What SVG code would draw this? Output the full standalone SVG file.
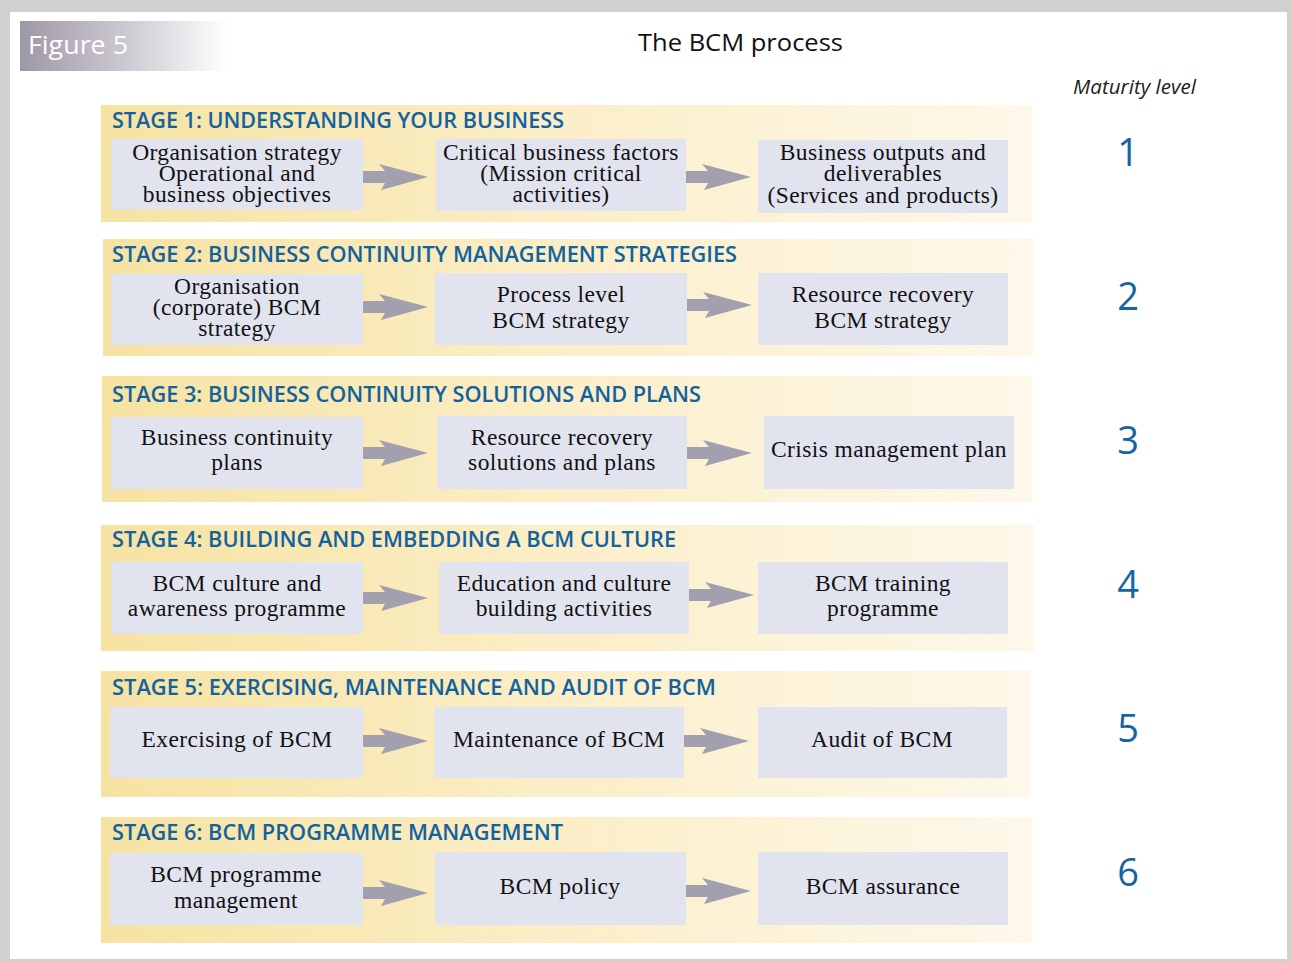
<svg xmlns="http://www.w3.org/2000/svg" xmlns:xlink="http://www.w3.org/1999/xlink" width="1292" height="962" viewBox="0 0 1292 962">
<style>
.stage{fill:url(#stageGrad)}
.title{font-family:"Open Sans","Liberation Sans",sans-serif;font-size:21px;font-weight:600;fill:#11629f}
.node rect{fill:#e1e3ef}
.node text{font-family:"Liberation Serif","DejaVu Serif",serif;font-size:23.5px;letter-spacing:0.4px;fill:#111;text-anchor:middle}
.lvl{font-family:"Open Sans","Liberation Sans",sans-serif;font-size:38px;fill:#1565a6;text-anchor:middle}
.arrow{fill:#a29fae}
</style>
<defs>
<linearGradient id="stageGrad" x1="0" y1="0" x2="1" y2="0">
<stop offset="0" stop-color="#f6e3a2"/>
<stop offset="0.45" stop-color="#fbedc4"/>
<stop offset="1" stop-color="#fdf8ea"/>
</linearGradient>
<linearGradient id="figGrad" x1="0" y1="0" x2="1" y2="0">
<stop offset="0" stop-color="#9e98a6"/>
<stop offset="0.5" stop-color="#ccc8d0"/>
<stop offset="1" stop-color="#ffffff"/>
</linearGradient>
<path id="arr" d="M0,-6 H22 L16,-13 L65,0 L18,13 L22,6 H0 Z"/>
</defs>

<rect x="0" y="0" width="1292" height="962" fill="#d0d0d0"/>
<rect x="10" y="12" width="1277" height="947" fill="#ffffff"/>

<g id="header">
<rect x="20" y="21" width="208" height="50" fill="url(#figGrad)"/>
<text x="28" y="54" font-family="Open Sans, Liberation Sans, sans-serif" font-size="26" fill="#ffffff" textLength="100" lengthAdjust="spacingAndGlyphs">Figure 5</text>
<text x="638" y="51" font-family="Open Sans, Liberation Sans, sans-serif" font-size="23" fill="#111" textLength="205" lengthAdjust="spacingAndGlyphs">The BCM process</text>
<text x="1073" y="94" font-family="Open Sans, Liberation Sans, sans-serif" font-size="20" font-style="italic" fill="#222" textLength="123" lengthAdjust="spacingAndGlyphs">Maturity level</text>
</g>

<g id="stage1">
<rect class="stage" x="101" y="105" width="931" height="117"/>
<text class="title" x="112" y="128" textLength="452" lengthAdjust="spacingAndGlyphs">STAGE 1: UNDERSTANDING YOUR BUSINESS</text>
<text class="lvl" x="1128" y="166">1</text>
</g>
<g id="s1n1" class="node"><rect x="111" y="139" width="252" height="71"/><text x="237" y="160">Organisation strategy</text><text x="237" y="181">Operational and</text><text x="237" y="202">business objectives</text></g>
<g id="s1n2" class="node"><rect x="436" y="139" width="250" height="72"/><text x="561" y="160">Critical business factors</text><text x="561" y="181">(Mission critical</text><text x="561" y="202">activities)</text></g>
<g id="s1n3" class="node"><rect x="758" y="140" width="250" height="73"/><text x="883" y="160">Business outputs and</text><text x="883" y="181">deliverables</text><text x="883" y="203">(Services and products)</text></g>

<g id="stage2">
<rect class="stage" x="103" y="239" width="930" height="117"/>
<text class="title" x="112" y="262" textLength="625" lengthAdjust="spacingAndGlyphs">STAGE 2: BUSINESS CONTINUITY MANAGEMENT STRATEGIES</text>
<text class="lvl" x="1128" y="310">2</text>
</g>
<g id="s2n1" class="node"><rect x="111" y="274" width="252" height="71"/><text x="237" y="294">Organisation</text><text x="237" y="315">(corporate) BCM</text><text x="237" y="336">strategy</text></g>
<g id="s2n2" class="node"><rect x="435" y="273" width="252" height="72"/><text x="561" y="302">Process level</text><text x="561" y="328">BCM strategy</text></g>
<g id="s2n3" class="node"><rect x="758" y="273" width="250" height="72"/><text x="883" y="302">Resource recovery</text><text x="883" y="328">BCM strategy</text></g>

<g id="stage3">
<rect class="stage" x="102" y="376" width="930" height="126"/>
<text class="title" x="112" y="402" textLength="589" lengthAdjust="spacingAndGlyphs">STAGE 3: BUSINESS CONTINUITY SOLUTIONS AND PLANS</text>
<text class="lvl" x="1128" y="454">3</text>
</g>
<g id="s3n1" class="node"><rect x="111" y="417" width="252" height="72"/><text x="237" y="445">Business continuity</text><text x="237" y="470">plans</text></g>
<g id="s3n2" class="node"><rect x="437" y="416" width="250" height="73"/><text x="562" y="445">Resource recovery</text><text x="562" y="470">solutions and plans</text></g>
<g id="s3n3" class="node"><rect x="764" y="416" width="250" height="73"/><text x="889" y="457">Crisis management plan</text></g>

<g id="stage4">
<rect class="stage" x="101" y="525" width="933" height="126"/>
<text class="title" x="112" y="547" textLength="564" lengthAdjust="spacingAndGlyphs">STAGE 4: BUILDING AND EMBEDDING A BCM CULTURE</text>
<text class="lvl" x="1128" y="598">4</text>
</g>
<g id="s4n1" class="node"><rect x="111" y="562" width="252" height="72"/><text x="237" y="591">BCM culture and</text><text x="237" y="616">awareness programme</text></g>
<g id="s4n2" class="node"><rect x="439" y="562" width="250" height="72"/><text x="564" y="591">Education and culture</text><text x="564" y="616">building activities</text></g>
<g id="s4n3" class="node"><rect x="758" y="562" width="250" height="72"/><text x="883" y="591">BCM training</text><text x="883" y="616">programme</text></g>

<g id="stage5">
<rect class="stage" x="101" y="671" width="930" height="126"/>
<text class="title" x="112" y="695" textLength="604" lengthAdjust="spacingAndGlyphs">STAGE 5: EXERCISING, MAINTENANCE AND AUDIT OF BCM</text>
<text class="lvl" x="1128" y="742">5</text>
</g>
<g id="s5n1" class="node"><rect x="110" y="707" width="253" height="71"/><text x="237" y="747">Exercising of BCM</text></g>
<g id="s5n2" class="node"><rect x="434" y="707" width="250" height="71"/><text x="559" y="747">Maintenance of BCM</text></g>
<g id="s5n3" class="node"><rect x="758" y="707" width="249" height="71"/><text x="882" y="747">Audit of BCM</text></g>

<g id="stage6">
<rect class="stage" x="101" y="817" width="931" height="126"/>
<text class="title" x="112" y="840" textLength="451" lengthAdjust="spacingAndGlyphs">STAGE 6: BCM PROGRAMME MANAGEMENT</text>
<text class="lvl" x="1128" y="886">6</text>
</g>
<g id="s6n1" class="node"><rect x="110" y="853" width="253" height="72"/><text x="236" y="882">BCM programme</text><text x="236" y="908">management</text></g>
<g id="s6n2" class="node"><rect x="435" y="852" width="251" height="73"/><text x="560" y="894">BCM policy</text></g>
<g id="s6n3" class="node"><rect x="758" y="852" width="250" height="73"/><text x="883" y="894">BCM assurance</text></g>

<g id="connectors" class="arrow">
<use xlink:href="#arr" x="363" y="177"/>
<use xlink:href="#arr" x="686" y="177"/>
<use xlink:href="#arr" x="363" y="307"/>
<use xlink:href="#arr" x="687" y="305"/>
<use xlink:href="#arr" x="363" y="453"/>
<use xlink:href="#arr" x="687" y="453"/>
<use xlink:href="#arr" x="363" y="598"/>
<use xlink:href="#arr" x="689" y="595"/>
<use xlink:href="#arr" x="363" y="741"/>
<use xlink:href="#arr" x="684" y="741"/>
<use xlink:href="#arr" x="363" y="893"/>
<use xlink:href="#arr" x="686" y="891"/>
</g>
</svg>
